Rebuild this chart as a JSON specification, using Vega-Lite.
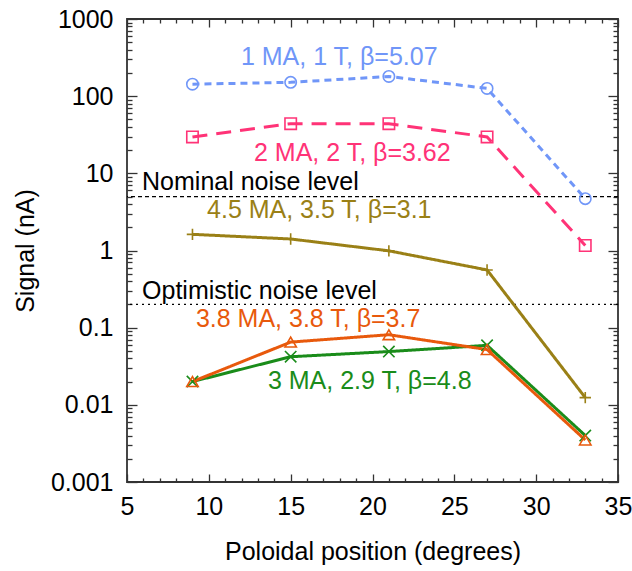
{
  "$schema": "https://vega.github.io/schema/vega-lite/v6.json",
  "autosize": {"type": "none"},
  "padding": {"left": 127, "top": 19, "right": 14, "bottom": 89},
  "width": 491,
  "height": 463,
  "background": "white",
  "config": {
    "view": {"stroke": "#333333", "strokeWidth": 1.8},
    "font": "Liberation Sans",
    "axis": {"domain": false, "grid": false, "tickColor": "#333333", "tickWidth": 1.3, "labelFont": "Liberation Sans", "labelFontSize": 25, "labelColor": "#000000", "titleFont": "Liberation Sans", "titleFontSize": 25, "titleFontWeight": "normal", "titleColor": "#000000"}
  },
  "datasets": {
    "series": [
      {"series": "1MA", "x": 9, "y": 143},
      {"series": "1MA", "x": 15, "y": 151},
      {"series": "1MA", "x": 21, "y": 180},
      {"series": "1MA", "x": 27, "y": 126},
      {"series": "1MA", "x": 33, "y": 4.7},
      {"series": "2MA", "x": 9, "y": 29.6},
      {"series": "2MA", "x": 15, "y": 44},
      {"series": "2MA", "x": 21, "y": 44},
      {"series": "2MA", "x": 27, "y": 29.6},
      {"series": "2MA", "x": 33, "y": 1.16},
      {"series": "4.5MA", "x": 9, "y": 1.62},
      {"series": "4.5MA", "x": 15, "y": 1.41},
      {"series": "4.5MA", "x": 21, "y": 0.99},
      {"series": "4.5MA", "x": 27, "y": 0.56},
      {"series": "4.5MA", "x": 33, "y": 0.0124},
      {"series": "3MA", "x": 9, "y": 0.02},
      {"series": "3MA", "x": 15, "y": 0.042},
      {"series": "3MA", "x": 21, "y": 0.049},
      {"series": "3MA", "x": 27, "y": 0.059},
      {"series": "3MA", "x": 33, "y": 0.004},
      {"series": "3.8MA", "x": 9, "y": 0.02},
      {"series": "3.8MA", "x": 15, "y": 0.065},
      {"series": "3.8MA", "x": 21, "y": 0.081},
      {"series": "3.8MA", "x": 27, "y": 0.052},
      {"series": "3.8MA", "x": 33, "y": 0.0035}
    ],
    "labels": [
      {"series": "1MA", "lx": 11.96, "ly": 320, "label": "1 MA, 1 T, β=5.07"},
      {"series": "2MA", "lx": 12.76, "ly": 18.5, "label": "2 MA, 2 T, β=3.62"},
      {"series": "noise", "lx": 5.92, "ly": 7.7, "label": "Nominal noise level"},
      {"series": "4.5MA", "lx": 9.89, "ly": 3.3, "label": "4.5 MA, 3.5 T, β=3.1"},
      {"series": "noise", "lx": 5.92, "ly": 0.3, "label": "Optimistic noise level"},
      {"series": "3.8MA", "lx": 9.21, "ly": 0.13, "label": "3.8 MA, 3.8 T, β=3.7"},
      {"series": "3MA", "lx": 13.61, "ly": 0.0205, "label": "3 MA, 2.9 T, β=4.8"}
    ],
    "noise": [
      {"kind": "Nominal", "level": 5},
      {"kind": "Optimistic", "level": 0.2}
    ]
  },
  "resolve": {"axis": {"x": "independent", "y": "independent"}, "scale": {"strokeDash": "independent"}},
  "layer": [
    {
      "data": {"name": "noise"},
      "mark": {"type": "rule", "color": "#000000", "strokeWidth": 1.2},
      "encoding": {
        "y": {"field": "level", "type": "quantitative", "scale": {"type": "log", "domain": [0.001, 1000], "nice": false},
          "axis": {"orient": "right", "title": null, "labels": false, "tickSize": -5, "values": [0.002,0.003,0.004,0.005,0.006,0.007,0.008,0.009,0.02,0.03,0.04,0.05,0.06,0.07,0.08,0.09,0.2,0.3,0.4,0.5,0.6,0.7,0.8,0.9,2,3,4,5,6,7,8,9,20,30,40,50,60,70,80,90,200,300,400,500,600,700,800,900]}},
        "strokeDash": {"field": "kind", "type": "nominal", "scale": {"domain": ["Nominal", "Optimistic"], "range": [[4, 3], [2, 4]]}, "legend": null}
      }
    },
    {
      "data": {"name": "series"},
      "mark": {"type": "point", "opacity": 0},
      "encoding": {
        "x": {"field": "x", "type": "quantitative", "scale": {"domain": [5, 35], "nice": false, "zero": false},
          "axis": {"orient": "top", "title": null, "labels": false, "tickSize": -4, "values": [6,7,8,9,11,12,13,14,16,17,18,19,21,22,23,24,26,27,28,29,31,32,33,34]}},
        "y": {"field": "y", "type": "quantitative", "scale": {"type": "log", "domain": [0.001, 1000], "nice": false}, "axis": null}
      }
    },
    {
      "data": {"name": "series"},
      "mark": {"type": "line", "strokeWidth": 3},
      "encoding": {
        "x": {"field": "x", "type": "quantitative", "scale": {"domain": [5, 35], "nice": false, "zero": false},
          "axis": {"orient": "bottom", "title": "Poloidal position (degrees)", "values": [5, 10, 15, 20, 25, 30, 35], "tickSize": -8, "labelPadding": 20, "titlePadding": 20, "labelFlush": false}},
        "y": {"field": "y", "type": "quantitative", "scale": {"type": "log", "domain": [0.001, 1000], "nice": false},
          "axis": {"orient": "left", "title": "Signal (nA)", "values": [0.001, 0.01, 0.1, 1, 10, 100, 1000], "tickSize": -10, "labelPadding": 24, "titlePadding": 12, "labelFlush": false, "labelExpr": "datum.value >= 1 ? format(datum.value, 'd') : format(datum.value, '~g')"}},
        "color": {"field": "series", "type": "nominal", "scale": {"domain": ["1MA", "2MA", "4.5MA", "3MA", "3.8MA", "noise"], "range": ["#7096f8", "#ff3377", "#9a8016", "#1a8c1a", "#e8590c", "#000000"]}, "legend": null},
        "strokeDash": {"field": "series", "type": "nominal", "scale": {"domain": ["1MA", "2MA", "4.5MA", "3MA", "3.8MA"], "range": [[7, 5], [15, 9], [1, 0], [1, 0], [1, 0]]}, "legend": null}
      }
    },
    {
      "data": {"name": "series"},
      "mark": {"type": "point", "filled": false, "strokeWidth": 1.6, "size": 130, "opacity": 1},
      "encoding": {
        "x": {"field": "x", "type": "quantitative", "scale": {"domain": [5, 35], "nice": false, "zero": false},
          "axis": {"orient": "top", "title": null, "labels": false, "values": [5, 10, 15, 20, 25, 30, 35], "tickSize": -8}},
        "y": {"field": "y", "type": "quantitative", "scale": {"type": "log", "domain": [0.001, 1000], "nice": false},
          "axis": {"orient": "right", "title": null, "labels": false, "values": [0.001, 0.01, 0.1, 1, 10, 100, 1000], "tickSize": -10}},
        "color": {"field": "series", "type": "nominal", "legend": null},
        "shape": {"field": "series", "type": "nominal", "scale": {"domain": ["1MA", "2MA", "4.5MA", "3MA", "3.8MA"], "range": ["circle", "square", "M-1,0L1,0M0,-1L0,1", "M-1,-1L1,1M-1,1L1,-1", "triangle-up"]}, "legend": null}
      }
    },
    {
      "data": {"name": "labels"},
      "mark": {"type": "text", "align": "left", "baseline": "middle", "fontSize": 25, "font": "Liberation Sans"},
      "encoding": {
        "x": {"field": "lx", "type": "quantitative", "scale": {"domain": [5, 35], "nice": false, "zero": false},
          "axis": {"orient": "bottom", "title": null, "labels": false, "tickSize": -4, "values": [6,7,8,9,11,12,13,14,16,17,18,19,21,22,23,24,26,27,28,29,31,32,33,34]}},
        "y": {"field": "ly", "type": "quantitative", "scale": {"type": "log", "domain": [0.001, 1000], "nice": false},
          "axis": {"orient": "left", "title": null, "labels": false, "tickSize": -5, "values": [0.002,0.003,0.004,0.005,0.006,0.007,0.008,0.009,0.02,0.03,0.04,0.05,0.06,0.07,0.08,0.09,0.2,0.3,0.4,0.5,0.6,0.7,0.8,0.9,2,3,4,5,6,7,8,9,20,30,40,50,60,70,80,90,200,300,400,500,600,700,800,900]}},
        "text": {"field": "label", "type": "nominal"},
        "color": {"field": "series", "type": "nominal", "legend": null}
      }
    }
  ]
}
